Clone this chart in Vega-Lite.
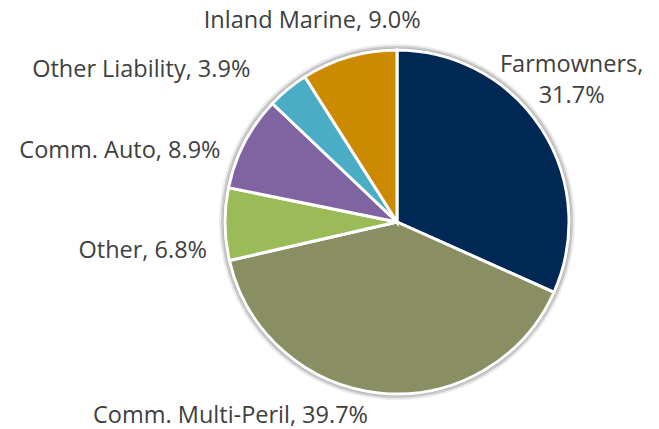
{
  "$schema": "https://vega.github.io/schema/vega-lite/v6.json",
  "width": 524,
  "height": 414,
  "padding": {"left": 135, "top": 15, "right": 0, "bottom": 0},
  "autosize": {"type": "none"},
  "background": "white",
  "config": {"view": {"stroke": null}, "text": {"font": "Open Sans", "fontSize": 23.5, "fill": "#404040"}},
  "data": {"values": [
    {"category": "Farmowners", "share": 31.7, "label": "Farmowners,\n31.7%"},
    {"category": "Comm. Multi-Peril", "share": 39.7, "label": "Comm. Multi-Peril, 39.7%"},
    {"category": "Other", "share": 6.8, "label": "Other, 6.8%"},
    {"category": "Comm. Auto", "share": 8.9, "label": "Comm. Auto, 8.9%"},
    {"category": "Other Liability", "share": 3.9, "label": "Other Liability, 3.9%"},
    {"category": "Inland Marine", "share": 9.0, "label": "Inland Marine, 9.0%"}
  ]},
  "transform": [{"window": [{"op": "row_number", "as": "idx"}]}],
  "encoding": {
    "theta": {"field": "share", "type": "quantitative", "stack": true},
    "order": {"field": "idx", "type": "quantitative"}
  },
  "layer": [
    {"mark": {"type": "arc", "outerRadius": 178, "fill": "#9a9a9a", "opacity": 0.2, "strokeWidth": 0}},
    {"mark": {"type": "arc", "outerRadius": 176, "fill": "#8a8a8a", "opacity": 0.35, "strokeWidth": 0}},
    {"mark": {"type": "arc", "outerRadius": 174, "fill": "#777777", "opacity": 0.45, "strokeWidth": 0}},
    {
      "mark": {"type": "arc", "outerRadius": 172, "stroke": "white", "strokeWidth": 3},
      "encoding": {
        "color": {
          "field": "category", "type": "nominal", "legend": null,
          "scale": {
            "domain": ["Farmowners", "Comm. Multi-Peril", "Other", "Comm. Auto", "Other Liability", "Inland Marine"],
            "range": ["#002855", "#8A8F63", "#9BBB59", "#8064A2", "#4BACC6", "#CC8A00"]
          }
        }
      }
    },
    {
      "mark": {"type": "text", "radius": 220, "align": "center", "baseline": "alphabetic", "dx": -10, "dy": -30, "lineBreak": "\n", "lineHeight": 31},
      "encoding": {"text": {"condition": {"test": "datum.category === 'Farmowners'", "field": "label"}, "value": ""}}
    },
    {
      "mark": {"type": "text", "radius": 195, "align": "right", "baseline": "alphabetic", "dx": -10, "dy": 7},
      "encoding": {"text": {"condition": {"test": "datum.category === 'Comm. Multi-Peril'", "field": "label"}, "value": ""}}
    },
    {
      "mark": {"type": "text", "radius": 190, "align": "right", "baseline": "alphabetic", "dx": 0, "dy": 34},
      "encoding": {"text": {"condition": {"test": "datum.category === 'Other'", "field": "label"}, "value": ""}}
    },
    {
      "mark": {"type": "text", "radius": 190, "align": "right", "baseline": "alphabetic", "dx": -8, "dy": 24},
      "encoding": {"text": {"condition": {"test": "datum.category === 'Comm. Auto'", "field": "label"}, "value": ""}}
    },
    {
      "mark": {"type": "text", "radius": 190, "align": "right", "baseline": "alphabetic", "dx": -26, "dy": 2},
      "encoding": {"text": {"condition": {"test": "datum.category === 'Other Liability'", "field": "label"}, "value": ""}}
    },
    {
      "mark": {"type": "text", "radius": 200, "align": "center", "baseline": "alphabetic", "dx": -29, "dy": -2},
      "encoding": {"text": {"condition": {"test": "datum.category === 'Inland Marine'", "field": "label"}, "value": ""}}
    }
  ]
}
